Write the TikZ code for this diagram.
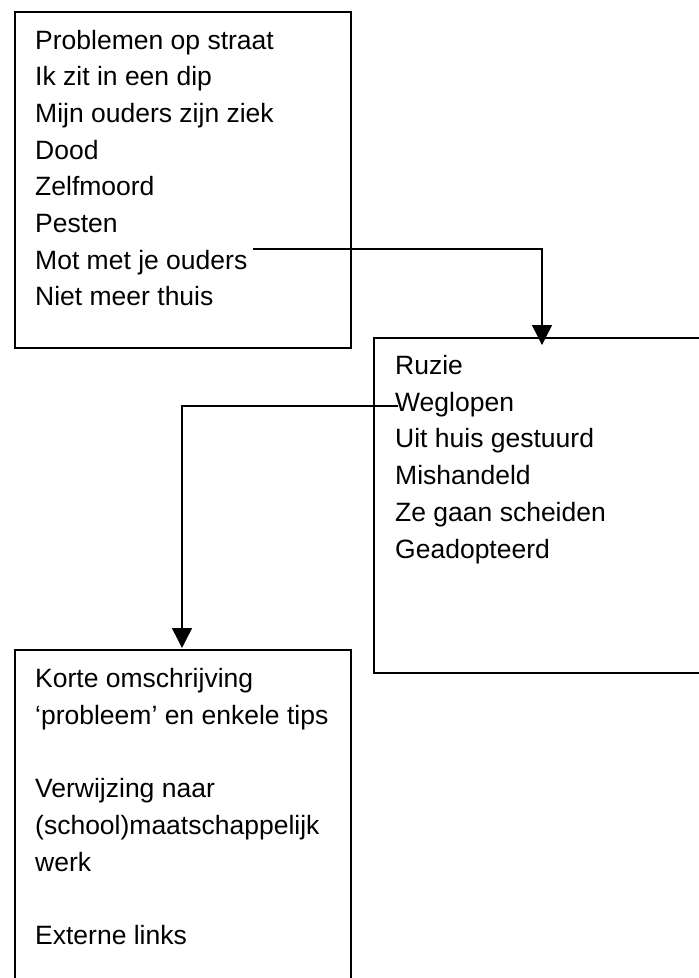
\documentclass[tikz,border=0pt]{standalone}
\usepackage{fontspec}
\setmainfont{Liberation Sans}
\usetikzlibrary{arrows.meta}
\begin{document}
\begin{tikzpicture}[x=1pt,y=-1pt,
  box/.style={draw=black,line width=1.5pt,fill=none,inner sep=0pt,anchor=north west},
  txt/.style={anchor=base west,inner sep=0pt,font=\fontsize{26.5}{32}\selectfont},
  arr/.style={draw=black,line width=1.4pt,-{Triangle[length=20pt,width=20pt]}}]
\useasboundingbox (0,0) rectangle (699,978);
\fill[white] (0,0) rectangle (699,978);
% boxes
\node[box,minimum width=336pt,minimum height=336pt] (b1) at (14,11) {};
\node[box,minimum width=360pt,minimum height=335pt] (b2) at (373,337) {};
\node[box,minimum width=336pt,minimum height=360pt] (b3) at (14,649) {};
% box 1 text
\node[txt] (t11) at (35,49.0) {Problemen op straat};
\node[txt] (t12) at (35,85.7) {Ik zit in een dip};
\node[txt] (t13) at (35,122.4) {Mijn ouders zijn ziek};
\node[txt] (t14) at (35,159.1) {Dood};
\node[txt] (t15) at (35,195.8) {Zelfmoord};
\node[txt] (t16) at (35,232.5) {Pesten};
\node[txt] (t17) at (35,269.2) {Mot met je ouders};
\node[txt] (t18) at (35,305.9) {Niet meer thuis};
% box 2 text
\node[txt] (t21) at (395,374.5) {Ruzie};
\node[txt] (t22) at (395,411.2) {Weglopen};
\node[txt] (t23) at (395,447.9) {Uit huis gestuurd};
\node[txt] (t24) at (395,484.6) {Mishandeld};
\node[txt] (t25) at (395,521.3) {Ze gaan scheiden};
\node[txt] (t26) at (395,558.0) {Geadopteerd};
% box 3 text
\node[txt] (t31) at (35,687.5) {Korte omschrijving};
\node[txt] (t32) at (35,724.2) {‘probleem’ en enkele tips};
\node[txt] (t33) at (35,797.6) {Verwijzing naar};
\node[txt] (t34) at (35,834.3) {(school)maatschappelijk};
\node[txt] (t35) at (35,871.0) {werk};
\node[txt] (t36) at (35,944.4) {Externe links};
% connector end points
\coordinate (s1) at (253,249);
\coordinate (e1) at (542,345);
\coordinate (s2) at (398,406);
\coordinate (e2) at (182,648);
\draw[arr] (s1) -| (e1);
\draw[arr] (s2) -| (e2);
\end{tikzpicture}
\end{document}
